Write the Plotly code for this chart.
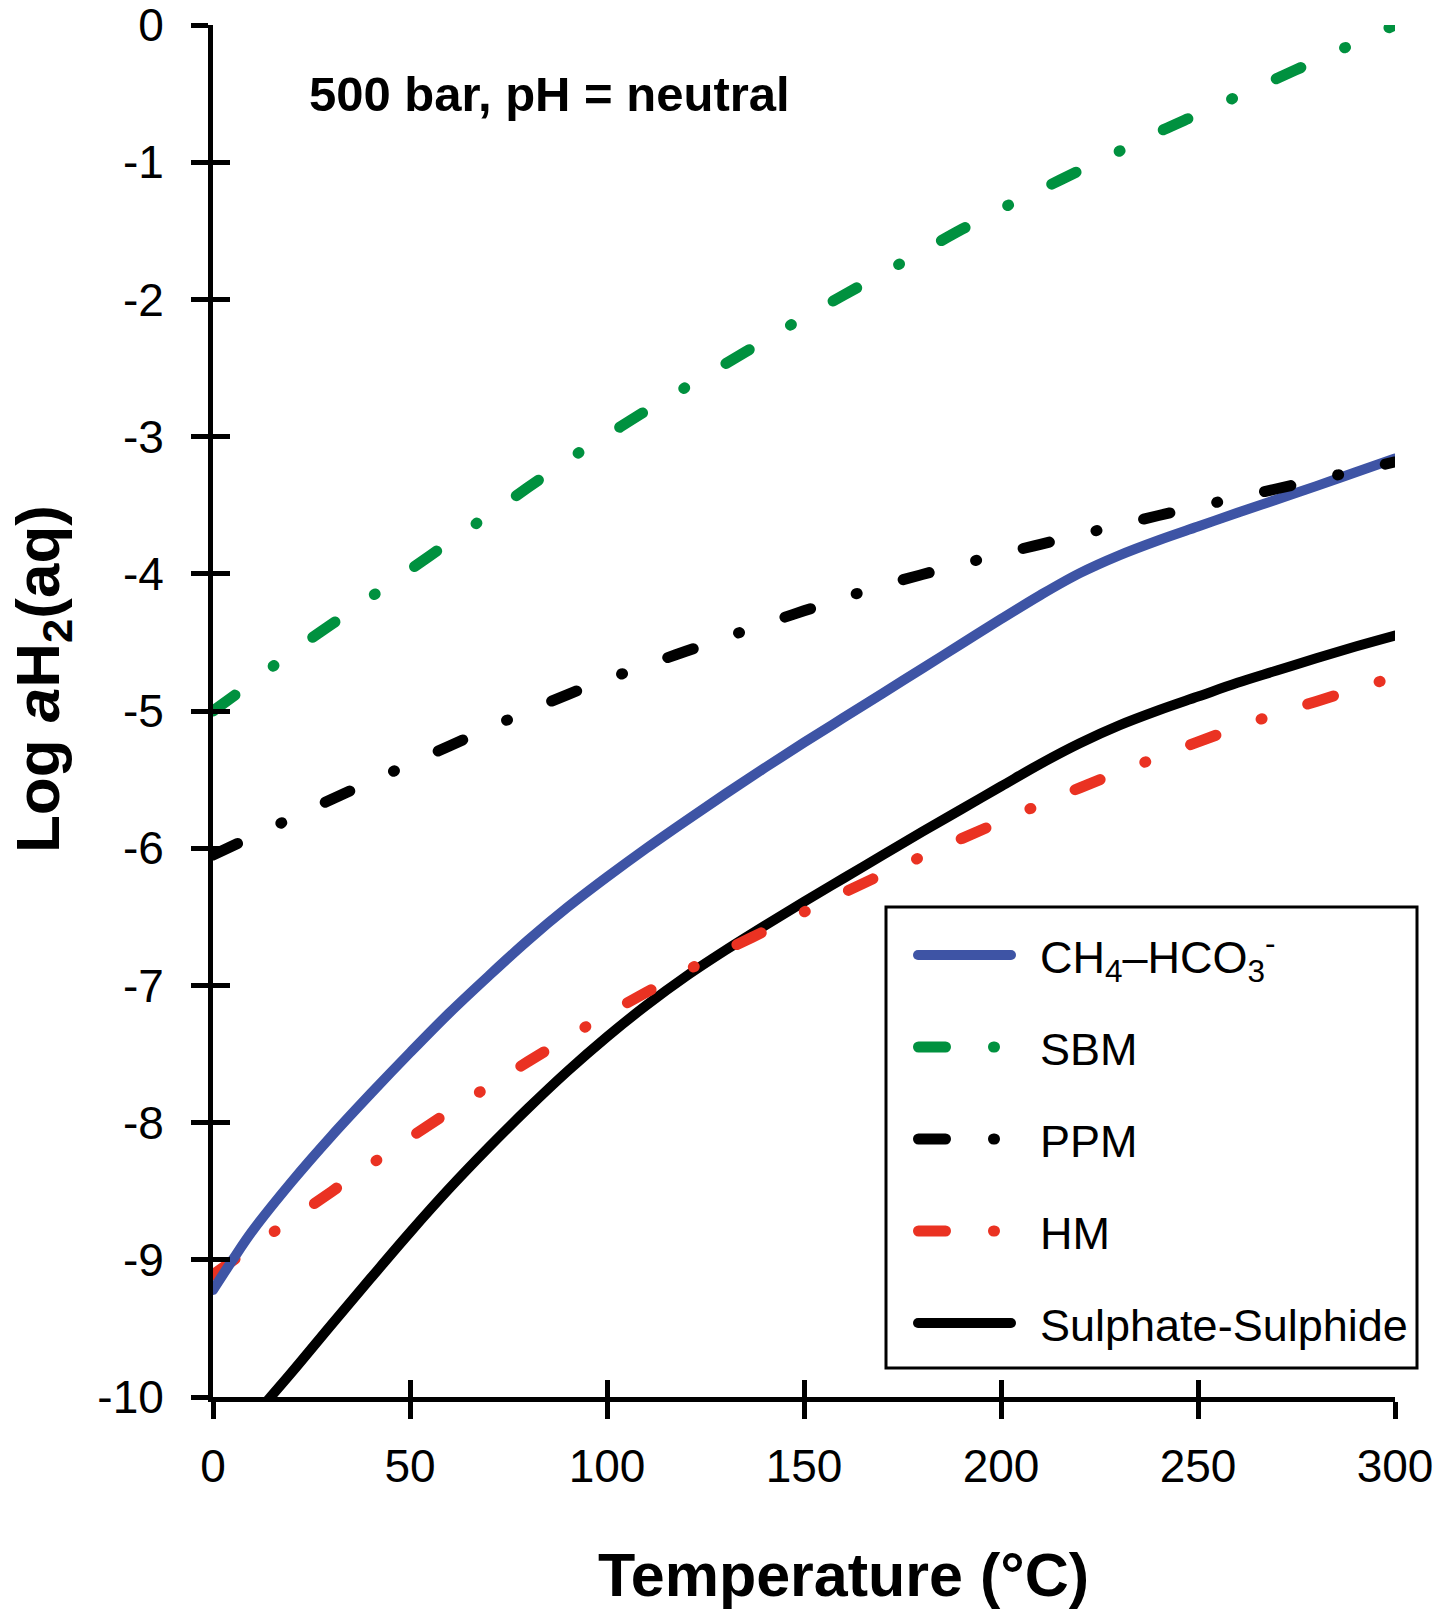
import plotly.graph_objects as go

# ---------------- data ----------------
x_ticks = [0, 50, 100, 150, 200, 250, 300]
x_tick_labels = ["0", "50", "100", "150", "200", "250", "300"]
y_ticks = [0, -1, -2, -3, -4, -5, -6, -7, -8, -9, -10]
y_tick_labels = ["0", "-1", "-2", "-3", "-4", "-5", "-6", "-7", "-8", "-9", "-10"]

t10 = [0, 10, 20, 30, 40, 50, 60, 70, 80, 90, 100, 110, 120, 130, 140, 150,
       160, 170, 180, 190, 200, 210, 220, 230, 240, 250, 260, 270, 280, 290, 300]

ch4_t = [0, 5, 10, 20, 30, 40, 50, 60, 70, 80, 90, 100, 110, 120, 130, 140, 150,
         160, 170, 180, 190, 200, 210, 220, 230, 240, 250, 260, 270, 280, 290, 300]
ch4_y = [-9.22, -9.00, -8.79, -8.43, -8.10, -7.79, -7.49, -7.20, -6.93, -6.67, -6.43,
         -6.21, -6.00, -5.80, -5.605, -5.415, -5.23, -5.05, -4.87, -4.69, -4.51, -4.33,
         -4.155, -3.995, -3.865, -3.755, -3.655, -3.555, -3.458, -3.361, -3.26, -3.16]

sbm_y = [-5.00, -4.79, -4.57, -4.37, -4.17, -3.97, -3.77, -3.57, -3.37, -3.17, -2.99,
         -2.81, -2.64, -2.47, -2.30, -2.13, -1.97, -1.81, -1.65, -1.49, -1.34, -1.20,
         -1.06, -0.92, -0.78, -0.65, -0.52, -0.39, -0.26, -0.13, 0.00]

ppm_y = [-6.05, -5.915, -5.78, -5.645, -5.515, -5.385, -5.255, -5.125, -5.00, -4.88, -4.77,
         -4.665, -4.565, -4.465, -4.365, -4.27, -4.175, -4.085, -4.005, -3.93, -3.855,
         -3.785, -3.715, -3.645, -3.575, -3.51, -3.445, -3.38, -3.315, -3.25, -3.185]

hm_y = [-9.11, -8.905, -8.705, -8.505, -8.305, -8.11, -7.92, -7.735, -7.555, -7.38, -7.21,
        -7.05, -6.895, -6.745, -6.605, -6.465, -6.325, -6.19, -6.06, -5.93, -5.805, -5.68,
        -5.56, -5.445, -5.335, -5.225, -5.12, -5.02, -4.93, -4.84, -4.75]

sul_t = [14, 20, 30, 40, 50, 60, 70, 80, 90, 100, 110, 120, 130, 140, 150, 160, 170,
         180, 190, 200, 210, 220, 230, 240, 250, 260, 270, 280, 290, 300]
sul_y = [-10.02, -9.82, -9.475, -9.135, -8.80, -8.48, -8.18, -7.895, -7.625, -7.375, -7.145,
         -6.935, -6.745, -6.565, -6.39, -6.22, -6.05, -5.88, -5.715, -5.55, -5.385, -5.235,
         -5.105, -4.995, -4.895, -4.795, -4.705, -4.615, -4.53, -4.45]

series_names = ["CH<sub>4</sub>–HCO<sub>3</sub><sup>-</sup>", "SBM", "PPM", "HM", "Sulphate-Sulphide"]

# ---------------- styles ----------------
BLUE = "rgb(62,84,165)"
GREEN = "rgb(0,145,63)"
RED = "rgb(234,50,34)"
BLACK = "rgb(0,0,0)"
LW_SOLID = 10
LW_DASH = 11
DASHDOT = "27px,48px,1px,48px"
FONT = "Liberation Sans, Arial, Helvetica, sans-serif"

W, H = 1455, 1612
L, R, T, B = 213, 60, 25, 215
PW, PH = W - L - R, H - T - B


def px_x(p):
    return (p - L) / PW


def px_y(p):
    return 1 - (p - T) / PH


fig = go.Figure()
line_kw = dict(mode="lines", line_shape="spline", showlegend=False, hoverinfo="skip")
fig.add_trace(go.Scatter(x=sul_t, y=sul_y, name=series_names[4],
                         line=dict(color=BLACK, width=LW_SOLID, smoothing=1), **line_kw))
fig.add_trace(go.Scatter(x=t10, y=hm_y, name=series_names[3],
                         line=dict(color=RED, width=LW_DASH, dash=DASHDOT, smoothing=1), **line_kw))
fig.add_trace(go.Scatter(x=ch4_t, y=ch4_y, name=series_names[0],
                         line=dict(color=BLUE, width=LW_SOLID, smoothing=1), **line_kw))
fig.add_trace(go.Scatter(x=t10, y=ppm_y, name=series_names[2],
                         line=dict(color=BLACK, width=LW_DASH, dash=DASHDOT, smoothing=1), **line_kw))
fig.add_trace(go.Scatter(x=t10, y=sbm_y, name=series_names[1],
                         line=dict(color=GREEN, width=LW_DASH, dash=DASHDOT, smoothing=1), **line_kw))
# empty trace to activate overlay axes (inner half of crossing ticks)
fig.add_trace(go.Scatter(x=[], y=[], xaxis="x2", yaxis="y2", showlegend=False, hoverinfo="skip"))

tickfont = dict(family=FONT, size=46, color="black")
fig.update_layout(
    width=W, height=H,
    margin=dict(l=L, r=R, t=T, b=B, pad=0),
    paper_bgcolor="white", plot_bgcolor="white",
    showlegend=False,
    xaxis=dict(range=[0, 300], tickvals=x_ticks, ticktext=x_tick_labels,
               ticks="outside", ticklen=17, tickwidth=5, tickcolor="black",
               showline=True, linewidth=5, linecolor="black",
               showgrid=False, zeroline=False, tickfont=tickfont,
               ticklabelstandoff=8, automargin=False, ticklabeloverflow="allow"),
    yaxis=dict(range=[-10, 0], tickvals=y_ticks, ticktext=y_tick_labels,
               ticks="outside", ticklen=17, tickwidth=5, tickcolor="black",
               showline=True, linewidth=5, linecolor="black",
               showgrid=False, zeroline=False, tickfont=tickfont,
               ticklabelstandoff=18, automargin=False, ticklabeloverflow="allow"),
    xaxis2=dict(range=[0, 300], tickvals=x_ticks, overlaying="x", anchor="y2", side="bottom",
                ticks="inside", ticklen=17, tickwidth=5, tickcolor="black",
                showticklabels=False, showline=False, showgrid=False, zeroline=False,
                automargin=False),
    yaxis2=dict(range=[-10, 0], tickvals=y_ticks, overlaying="y", anchor="x2", side="left",
                ticks="inside", ticklen=17, tickwidth=5, tickcolor="black",
                showticklabels=False, showline=False, showgrid=False, zeroline=False,
                automargin=False),
)

annotations = [
    dict(text="500 bar, pH = neutral", x=px_x(549), y=px_y(94), xref="paper", yref="paper",
         xanchor="center", yanchor="middle", showarrow=False,
         font=dict(family=FONT, size=49, color="black", weight="bold")),
    dict(text="Temperature (°C)", x=px_x(843), y=px_y(1575), xref="paper", yref="paper",
         xanchor="center", yanchor="middle", showarrow=False,
         font=dict(family=FONT, size=61, color="black", weight="bold")),
    dict(text="Log <i>a</i>H<sub>2</sub>(aq)", x=px_x(42), y=px_y(679), xref="paper", yref="paper",
         xanchor="center", yanchor="middle", showarrow=False, textangle=-90,
         font=dict(family=FONT, size=62, color="black", weight="bold")),
]

# ---------------- legend (drawn) ----------------
shapes = [dict(type="rect", xref="paper", yref="paper",
               x0=px_x(886), x1=px_x(1417), y0=px_y(1368), y1=px_y(907),
               line=dict(color="black", width=3), fillcolor="white", layer="above")]
legend_rows = [955, 1047, 1139, 1231, 1323]
legend_styles = [(BLUE, None), (GREEN, DASHDOT), (BLACK, DASHDOT), (RED, DASHDOT), (BLACK, None)]
for name, yy, (col, dash) in zip(series_names, legend_rows, legend_styles):
    if dash is None:
        shapes.append(dict(type="line", xref="paper", yref="paper",
                           x0=px_x(918), x1=px_x(1011), y0=px_y(yy), y1=px_y(yy),
                           line=dict(color=col, width=LW_SOLID), layer="above"))
    else:
        shapes.append(dict(type="line", xref="paper", yref="paper",
                           x0=px_x(918.5), x1=px_x(997), y0=px_y(yy), y1=px_y(yy),
                           line=dict(color=col, width=LW_DASH, dash=dash), layer="above"))
    annotations.append(dict(text=name, x=px_x(1038), y=px_y(yy + 2), xref="paper", yref="paper",
                            xanchor="left", yanchor="middle", showarrow=False,
                            font=dict(family=FONT, size=45, color="black")))

fig.update_layout(shapes=shapes, annotations=annotations)

js = ("var s=document.createElement('style');"
      "s.innerHTML='html,body{margin:0;padding:0;overflow:hidden;}"
      " .js-line{stroke-linecap:round;stroke-linejoin:round;}"
      " .shapelayer path:not([d$=\"Z\"]){stroke-linecap:round;}';"
      "document.head.appendChild(s);")
fig.write_html("out.html", post_script=js, config={"displayModeBar": False})
